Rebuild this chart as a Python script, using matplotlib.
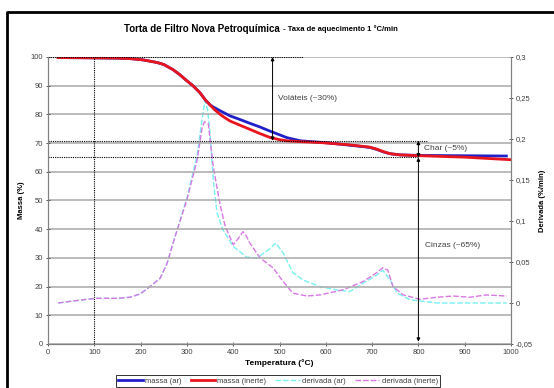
import numpy as np
import matplotlib
matplotlib.use("Agg")
from matplotlib import pyplot as plt
from matplotlib.lines import Line2D

plt.rcParams['font.family'] = ['Liberation Sans', 'DejaVu Sans']

# massa (TG) curves, left axis
temp_massa_ar = [22, 100, 150, 180, 205, 235, 250, 270, 285, 300, 313, 328, 340, 350, 360, 375,
                 393, 415, 436, 458, 479, 500, 516, 545, 587, 609, 650, 695, 710, 725, 739, 760,
                 803, 900, 990]
massa_ar = [99.8, 99.7, 99.6, 99.4, 99.0, 98.1, 97.4, 95.6, 93.8, 91.7, 90.0, 87.6, 85.0, 83.3,
            82.3, 81.0, 79.5, 78.2, 76.9, 75.6, 74.2, 72.9, 71.9, 70.8, 70.3, 70.0, 69.3, 68.5,
            67.8, 66.9, 66.3, 65.9, 65.7, 65.6, 65.5]
temp_massa_in = [22, 100, 150, 180, 205, 235, 250, 270, 285, 300, 313, 328, 340, 350, 360, 375,
                 393, 415, 436, 458, 479, 500, 516, 545, 587, 650, 695, 710, 725, 739, 760,
                 803, 900, 1000]
massa_in = [99.8, 99.7, 99.6, 99.4, 99.0, 98.1, 97.4, 95.6, 93.8, 91.7, 90.0, 87.6, 85.0, 83.3,
            81.6, 79.6, 77.7, 76.2, 74.8, 73.3, 72.0, 71.2, 70.8, 70.5, 70.2, 69.4, 68.6,
            67.9, 67.0, 66.3, 65.9, 65.6, 65.1, 64.2]

# derivada (DTG) curves, right axis
temp_der_ar = [22, 48, 84, 106, 149, 177, 199, 220, 242, 257, 270, 281, 300, 322, 333, 339, 345,
               350, 357, 365, 378, 400, 429, 451, 479, 492, 508, 529, 551, 587, 624, 652, 680,
               710, 723, 739, 754, 782, 840, 911, 991]
der_ar = [0.0, 0.002, 0.0045, 0.0057, 0.0057, 0.007, 0.011, 0.02, 0.03, 0.048, 0.073, 0.093, 0.128,
          0.18, 0.225, 0.247, 0.235, 0.207, 0.15, 0.11, 0.089, 0.069, 0.056, 0.055, 0.066, 0.073,
          0.061, 0.037, 0.028, 0.020, 0.016, 0.014, 0.024, 0.034, 0.040, 0.028, 0.012, 0.004,
          0.0, 0.0, 0.0]
temp_der_in = [22, 48, 84, 106, 149, 177, 199, 220, 242, 257, 270, 279, 300, 322, 333, 338, 346,
               357, 371, 382, 400, 410, 421, 428, 436, 458, 486, 508, 529, 559, 587, 637, 680,
               710, 723, 734, 745, 767, 803, 840, 875, 911, 946, 991]
der_in = [0.0, 0.002, 0.0045, 0.0057, 0.0057, 0.007, 0.011, 0.02, 0.03, 0.048, 0.073, 0.089, 0.126,
          0.174, 0.214, 0.221, 0.219, 0.166, 0.122, 0.095, 0.071, 0.078, 0.087, 0.082, 0.073,
          0.055, 0.043, 0.026, 0.012, 0.0085, 0.0098, 0.016, 0.026, 0.037, 0.043, 0.040, 0.020,
          0.010, 0.0045, 0.007, 0.0085, 0.007, 0.0098, 0.0085]

x_ticks = list(range(0, 1001, 100))
y_ticks = list(range(0, 101, 10))
y2_ticks = [-0.05, 0, 0.05, 0.1, 0.15, 0.2, 0.25, 0.3]
y2_labels = ["-0,05", "0", "0,05", "0,1", "0,15", "0,2", "0,25", "0,3"]

fig = plt.figure(figsize=(5.54, 3.88), dpi=100)
ax = fig.add_axes([48 / 554, 1 - 344 / 388, 463 / 554, 287 / 388])
ax2 = ax.twinx()

# black frame (only top and left edges are inside the picture)
fig.lines.append(Line2D([7 / 554, 7 / 554, 1.0], [0, 1 - 12 / 388, 1 - 12 / 388],
                        transform=fig.transFigure, color="black", linewidth=2))

ax.set_xlim(0, 1000)
ax.set_ylim(0, 100)
ax2.set_ylim(-0.05, 0.3)
ax.set_xticks(x_ticks)
ax.set_yticks(y_ticks)
ax2.set_yticks(y2_ticks)
ax2.set_yticklabels(y2_labels)

ax.grid(axis="y", color="#a8a8a8", linewidth=1.1)
ax.set_axisbelow(True)
for a in (ax, ax2):
    for s in a.spines.values():
        s.set_color("#808080")
        s.set_linewidth(0.8)
    a.tick_params(labelsize=5.5, colors="#404040", direction="inout", length=3, width=0.6, pad=2)
ax.spines["top"].set_visible(False)
ax2.spines["top"].set_visible(False)

ln_dar, = ax2.plot(temp_der_ar, der_ar, color="#78f0f0", lw=1, ls=(0, (4, 1.5)), label="derivada (ar)")
ln_din, = ax2.plot(temp_der_in, der_in, color="#d878e4", lw=1, ls=(0, (4, 1.5)), label="derivada (inerte)")
ln_mar, = ax.plot(temp_massa_ar, massa_ar, color="#2020c8", lw=2, label="massa (ar)")
ln_min, = ax.plot(temp_massa_in, massa_in, color="#e8141e", lw=2, label="massa (inerte)")
ax.set_zorder(ax2.get_zorder() + 1)
ax.patch.set_visible(False)

# guide lines
dot = dict(color="black", lw=0.8, ls=(0, (1, 1)))
ax.plot([100, 100], [0, 100], **dot)
ax.plot([0, 550], [100, 100], **dot)
ax.plot([0, 820], [70.8, 70.8], **dot)
ax.plot([0, 800], [65, 65], **dot)

arrow = dict(arrowstyle="<|-|>", color="black", lw=0.7, mutation_scale=5, shrinkA=0, shrinkB=0)
ax.annotate("", xy=(485, 100), xytext=(485, 70.8), arrowprops=arrow)
ax.annotate("", xy=(800, 70.8), xytext=(800, 65), arrowprops=arrow)
ax.annotate("", xy=(800, 65), xytext=(800, 0.8), arrowprops=arrow)

ax.text(497, 85.7, "Voláteis (~30%)", fontsize=6, color="#404040", va="center")
ax.text(812, 68.2, "Char (~5%)", fontsize=6, color="#404040", va="center")
ax.text(814, 34.3, "Cinzas (~65%)", fontsize=6, color="#404040", va="center")

ax.set_xlabel("Temperatura (°C)", fontsize=6, fontweight="bold", labelpad=2)
ax.set_ylabel("Massa (%)", fontsize=5.5, fontweight="bold", labelpad=4)
ax2.set_ylabel("Derivada (%/min)", fontsize=5.5, fontweight="bold", labelpad=4)

fig.text(0.505, 1 - 29 / 388, "Torta de Filtro Nova Petroquímica", fontsize=7, fontweight="bold",
         ha="right", va="center")
fig.text(0.507, 1 - 29 / 388, " - Taxa de aquecimento 1 °C/min", fontsize=5.5, fontweight="bold",
         ha="left", va="center")

leg = fig.legend(handles=[ln_mar, ln_min, ln_dar, ln_din], loc="upper center",
                 bbox_to_anchor=(278 / 554, 1 - 375 / 388), ncol=4, fontsize=5.5, frameon=True,
                 fancybox=False, edgecolor="black", borderpad=0.3, handlelength=3.2,
                 handletextpad=0.3, columnspacing=1.2, borderaxespad=0)
leg.get_frame().set_linewidth(0.7)
for t in leg.get_texts():
    t.set_color("#404040")

fig.savefig("out.png", dpi=100)
